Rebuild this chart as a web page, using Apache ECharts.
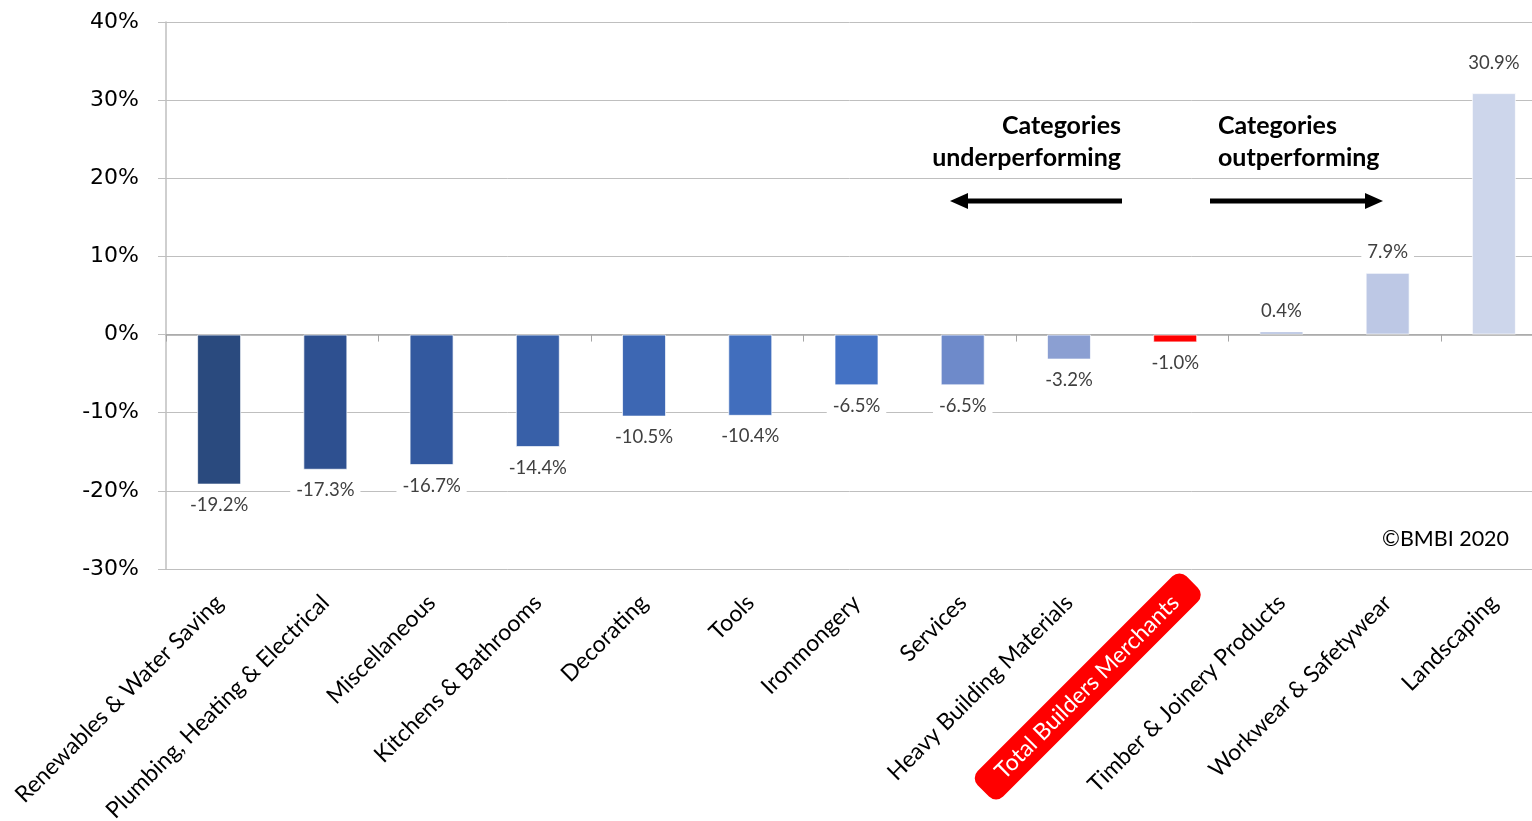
<!DOCTYPE html>
<html><head><meta charset="utf-8">
<script src="https://cdn.jsdelivr.net/npm/echarts@6/dist/echarts.min.js"></script>
<style>html,body{margin:0;padding:0;background:#fff}#c{width:1532px;height:821px}</style>
</head><body><div id="c"></div>
<script>
const categories = ['Renewables & Water Saving','Plumbing, Heating & Electrical','Miscellaneous','Kitchens & Bathrooms','Decorating','Tools','Ironmongery','Services','Heavy Building Materials','Total Builders Merchants','Timber & Joinery Products','Workwear & Safetywear','Landscaping'];
const values = [-19.2,-17.3,-16.7,-14.4,-10.5,-10.4,-6.5,-6.5,-3.2,-1.0,0.4,7.9,30.9];
const barColors = ['#2A4A7E','#2E5090','#33599F','#3860A8','#3D67B3','#416EBD','#4472C4','#6E8ACA','#8B9FD2','#FF0000','#A8B7DC','#BDC8E5','#CDD6EB'];
const yTicks = [-30,-20,-10,0,10,20,30,40];
const totalIndex = 9;

const chart = echarts.init(document.getElementById('c'), null, {renderer:'canvas'});
const labelFont = 'Lato, "Open Sans", sans-serif';
const catFontSize = 23;
const catMargin = 30;

const baseGraphic = [
  {id:'t1', type:'text', style:{x:1121, y:126, text:'Categories', align:'right', verticalAlign:'middle', font:'bold 25px Lato, sans-serif', fill:'#000'}},
  {id:'t2', type:'text', style:{x:1121, y:158, text:'underperforming', align:'right', verticalAlign:'middle', font:'bold 25px Lato, sans-serif', fill:'#000'}},
  {id:'t3', type:'text', style:{x:1218, y:126, text:'Categories', align:'left', verticalAlign:'middle', font:'bold 25px Lato, sans-serif', fill:'#000'}},
  {id:'t4', type:'text', style:{x:1218, y:158, text:'outperforming', align:'left', verticalAlign:'middle', font:'bold 25px Lato, sans-serif', fill:'#000'}},
  {id:'a1', type:'line', shape:{x1:1122,y1:201,x2:965,y2:201}, style:{stroke:'#000',lineWidth:5}},
  {id:'a2', type:'polygon', shape:{points:[[950,201],[968,193],[968,209]]}, style:{fill:'#000'}},
  {id:'a3', type:'line', shape:{x1:1210,y1:201,x2:1368,y2:201}, style:{stroke:'#000',lineWidth:5}},
  {id:'a4', type:'polygon', shape:{points:[[1383,201],[1365,193],[1365,209]]}, style:{fill:'#000'}},
  {id:'cp', type:'text', left:1382, top:528, style:{text:'©BMBI 2020', font:'21.5px Lato, sans-serif', fill:'#000'}}
];

chart.setOption({
  animation:false,
  backgroundColor:'#fff',
  grid:{left:166,width:1381,top:22,bottom:252,containLabel:false,outerBoundsMode:'none'},
  xAxis:[{
    type:'category', data:categories, position:'bottom',
    axisLine:{show:false,onZero:false}, axisTick:{show:false},
    axisLabel:{rotate:45, margin:catMargin, color:'#000', fontFamily:labelFont, fontSize:catFontSize, interval:0,
      formatter:(v,i)=> i===totalIndex ? '{tot|'+v+'}' : v,
      rich:{tot:{color:'#fff',fontFamily:labelFont,fontSize:catFontSize}}
    },
    splitLine:{show:false}
  },{
    type:'category', data:categories, position:'top',
    axisLine:{show:true,onZero:true,lineStyle:{color:'#A6A6A6',width:1.5}},
    axisTick:{show:true,inside:true,length:7,lineStyle:{color:'#A6A6A6'}},
    axisLabel:{show:false}, splitLine:{show:false}
  }],
  yAxis:{
    type:'value', min:yTicks[0], max:yTicks[yTicks.length-1], interval:10,
    axisLine:{show:true,lineStyle:{color:'#BFBFBF',width:1.5}},
    axisTick:{show:true,length:8,lineStyle:{color:'#BFBFBF'}},
    axisLabel:{formatter:'{value}%', color:'#000', fontFamily:'"DejaVu Sans", sans-serif', fontSize:22, margin:27},
    splitLine:{lineStyle:{color:'#BFBFBF',width:1}}
  },
  series:[{
    type:'bar', xAxisIndex:0, barWidth:44,
    data: values.map((v,i)=>({value:v,
      itemStyle:{color:barColors[i]},
      label: i===values.length-1 ? {distance:20} : undefined})),
    itemStyle:{borderColor:'rgba(255,255,255,0.7)',borderWidth:1},
    label:{show:true, position:'outside', distance:10,
      formatter:p=>p.value.toFixed(1)+'%',
      color:'#404040', fontFamily:labelFont, fontSize:18.5,
      backgroundColor:'#fff', padding:[1,6,1,6]}
  }],
  graphic: baseGraphic
});

// red rounded box behind the "Total" category label, placed through the axis scales
const ctx = document.createElement('canvas').getContext('2d');
ctx.font = catFontSize + 'px Lato';
const tw = ctx.measureText(categories[totalIndex]).width;
const ax = chart.convertToPixel({xAxisIndex:0}, totalIndex);
const ay = chart.convertToPixel({yAxisIndex:0}, yTicks[0]) + catMargin;
const padL = 22, padR = 24, halfH = 18;
chart.setOption({graphic: baseGraphic.concat([{
  id:'totbox', type:'rect', x:ax, y:ay, rotation:Math.PI/4, z:-1,
  shape:{x:-(tw+padL), y:-halfH, width:tw+padL+padR, height:halfH*2, r:10},
  style:{fill:'#FF0000'}
}])});
</script></body></html>
